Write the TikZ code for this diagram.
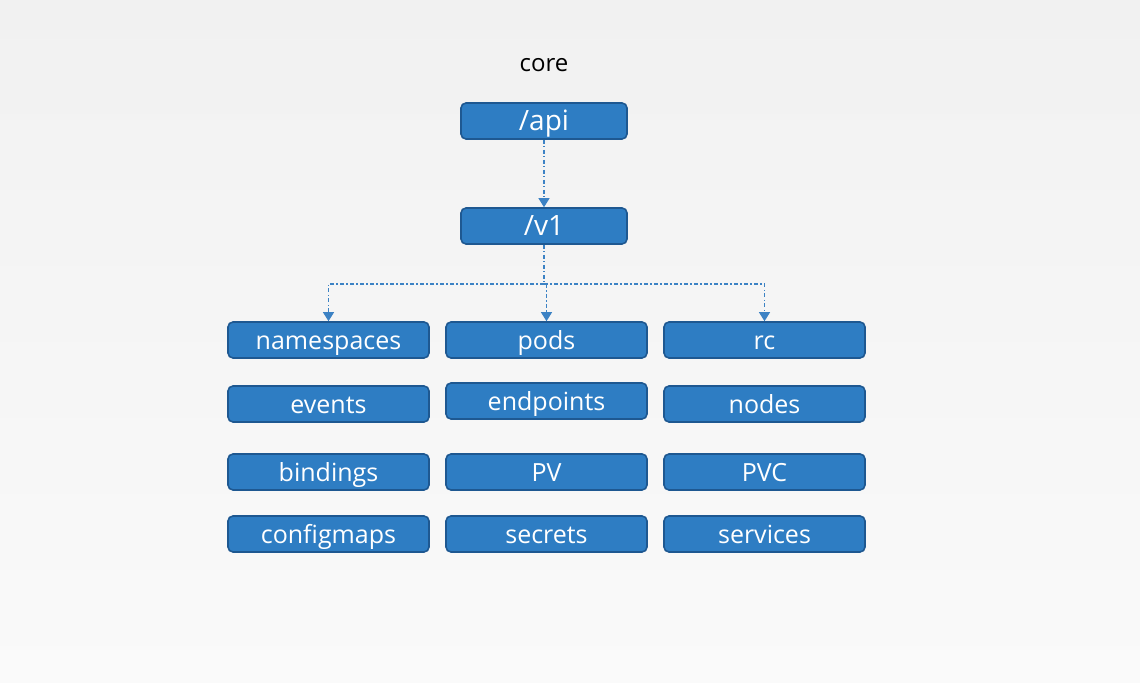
\documentclass[tikz,border=0pt]{standalone}
\usepackage{fontspec}
\setmainfont{Open Sans}
\usetikzlibrary{arrows.meta,positioning}
\definecolor{boxblue}{RGB}{46,125,195}
\definecolor{boxedge}{RGB}{30,88,145}
\definecolor{linkblue}{RGB}{60,130,196}
\definecolor{bgtop}{RGB}{241,241,241}
\definecolor{bgbottom}{RGB}{250,250,250}

\begin{document}
\begin{tikzpicture}[x=0.5pt, y=-0.5pt,
    >={Triangle[length=4.5pt,width=5.5pt]},
    res/.style={draw=boxedge, line width=0.8pt, fill=boxblue, rounded corners=2.5pt,
      text=white, minimum width=100.5pt, minimum height=18pt, inner sep=0pt,
      text height=12pt, text depth=2pt,
      font=\fontsize{12.5}{14}\selectfont},
    ver/.style={res, minimum width=83pt, font=\fontsize{14}{16}\selectfont},
    link/.style={->, linkblue, line width=0.55pt, dash pattern=on 2pt off 1.2pt on 0.6pt off 1.2pt}]
  %% background, fixes the page size (units are reference pixels)
  \shade[top color=bgtop, bottom color=bgbottom] (0,0) rectangle (1140,683);
  \useasboundingbox (0,0) rectangle (1140,683);
  %% group title and version path
  \node[font=\fontsize{12}{14}\selectfont] (core) at (544,65) {core};
  \node[ver] (api) at (544,121) {/api};
  \node[ver] (v1) at (544,226) {/v1};
  %% resource boxes -- format: name/x/y/label
  \foreach \rname/\x/\y/\lbl in {
    namespaces/328.5/340/namespaces, pods/546.5/340/pods, rc/764.5/340/rc,
    events/328.5/404/events, endpoints/546.5/401/endpoints, nodes/764.5/404/nodes,
    bindings/328.5/472/bindings, pv/546.5/472/PV, pvc/764.5/472/PVC,
    configmaps/328.5/534/configmaps, secrets/546.5/534/secrets, services/764.5/534/services}{
    \node[res] (\rname) at (\x,\y) {\lbl};
  }
  %% links
  \coordinate (fork) at (544,284);
  \draw[link] (api) -- (v1);
  \draw[link, -] (v1.south) -- (fork);
  \draw[link] (fork) -| (namespaces.north);
  \draw[link] (fork) -| (rc.north);
  \draw[link] (fork -| pods.north) -- (pods.north);
\end{tikzpicture}
\end{document}
